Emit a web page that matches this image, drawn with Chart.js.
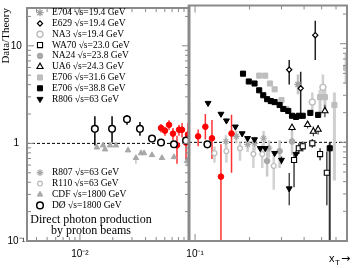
<!DOCTYPE html>
<html>
<head>
<meta charset="utf-8">
<script src="https://cdn.jsdelivr.net/npm/chart.js@4.4.1/dist/chart.umd.min.js"></script>
<style>
  html, body { margin: 0; padding: 0; background: #fff; }
  #wrap { position: relative; width: 354px; height: 268px; }
  #wrap canvas { position: absolute; left: 0; top: 0; }
</style>
</head>
<body>
<div id="wrap">
  <canvas id="low" width="354" height="268"></canvas>
  <canvas id="high" width="354" height="268"></canvas>
</div>
<script>
// axis ranges (log x in two panels, shared log y)
const yRange = [0.1, 24.4];
const lowXRange = [0.00327, 0.1];
const highXRange = [0.0926, 0.69];
const yTickVals = [0.1, 1, 10];
const yTickText = ['10\u207B\u00B9', '1', '10'];
const lowXTickVals = [0.01];
const lowXTickText = ['10\u207B\u00B2'];
const highXTickVals = [0.1];
const highXTickText = ['10\u207B\u00B9'];

// legend entries
const topExperiments = ['E704', 'E629', 'NA3', 'WA70', 'NA24', 'UA6', 'E706', 'E706', 'R806'];
const topEnergies = ['19.4', '19.4', '19.4', '23.0', '23.8', '24.3', '31.6', '38.8', '63'];
const topKeys = ['e704', 'e629', 'na3', 'wa70', 'na24', 'ua6', 'e706a', 'e706b', 'r806'];
const bottomExperiments = ['R807', 'R110', 'CDF', 'D\u00D8'];
const bottomEnergies = ['63', '63', '1800', '1800'];
const bottomKeys = ['r807', 'r110', 'cdf', 'dzero'];

// data (x_T, data/theory, error low, error high)
const e704X = [0.370];
const e704Y = [3.86];
const e704Lo = [3.07];
const e704Hi = [4.86];

const e629X = [0.331, 0.383, 0.461];
const e629Y = [5.45, 3.53, 12.2];
const e629Lo = [3.86, 1.90, 6.85];
const e629Hi = [6.85, 5.20, 17.1];

const na3X = [0.444, 0.508];
const na3Y = [2.56, 3.61];
const na3Lo = [2.0, 2.87];
const na3Hi = [3.2, 4.86];

const wa70X = [0.352, 0.374, 0.393, 0.444, 0.490, 0.534];
const wa70Y = [0.662, 0.871, 0.912, 0.977, 0.760, 0.492];
const wa70Lo = [0.35, 0.76, 0.81, 0.88, 0.66, 0.23];
const wa70Hi = [0.76, 0.98, 1.02, 1.08, 0.87, 0.81];

const na24X = [0.250, 0.293, 0.343];
const na24Y = [0.647, 0.814, 1.02];
const na24Lo = [0.45, 0.55, 0.75];
const na24Hi = [0.85, 1.05, 1.3];

const ua6X = [0.343, 0.418, 0.450, 0.478, 0.521];
const ua6Y = [1.41, 1.51, 1.29, 1.35, 2.08];
const ua6Lo = [1.30, 1.38, 1.15, 1.20, 1.80];
const ua6Hi = [1.52, 1.65, 1.45, 1.50, 2.40];

const e706aX = [0.226, 0.244, 0.259, 0.275, 0.300, 0.319, 0.490, 0.521, 0.588, 0.682];
const e706aY = [4.75, 4.75, 3.95, 3.45, 2.68, 2.18, 2.87, 2.87, 2.39, 5.70];
const e706aLo = [4.6, 4.6, 3.8, 3.3, 2.55, 2.05, 2.0, 2.0, 0.41, 3.9];
const e706aHi = [4.9, 4.9, 4.1, 3.6, 2.8, 2.3, 3.4, 3.4, 3.2, 8.0];

const e706bX = [0.184, 0.198, 0.213, 0.226, 0.238, 0.250, 0.262, 0.275, 0.293, 0.307,
                0.327, 0.343, 0.361, 0.374, 0.393, 0.433, 0.478, 0.554];
const e706bY = [4.97, 4.14, 3.95, 3.37, 3.00, 2.74, 2.62, 2.56, 2.39, 2.18,
                2.08, 1.86, 1.81, 1.86, 1.86, 1.99, 1.90, 0.871];
const e706bLo = [4.8, 4.0, 3.8, 3.25, 2.9, 2.65, 2.53, 2.47, 2.3, 2.1,
                 2.0, 1.78, 1.73, 1.77, 1.76, 1.88, 1.78, 0.05];
const e706bHi = [5.15, 4.3, 4.1, 3.5, 3.1, 2.83, 2.71, 2.65, 2.48, 2.26,
                 2.16, 1.94, 1.9, 1.95, 1.96, 2.1, 2.02, 0.99];

const r806X = [0.118, 0.139, 0.149, 0.167, 0.182, 0.195, 0.213, 0.229, 0.244, 0.275, 0.300, 0.331, 0.361];
const r806Y = [2.50, 1.94, 1.66, 1.44, 1.23, 1.10, 1.07, 0.871, 0.871, 0.777, 0.662, 0.340, 0.76];
const r806Lo = [2.42, 1.88, 1.61, 1.39, 1.19, 1.06, 1.03, 0.84, 0.84, 0.74, 0.60, 0.23, 0.70];
const r806Hi = [2.58, 2.0, 1.71, 1.49, 1.27, 1.14, 1.11, 0.90, 0.90, 0.81, 0.72, 0.49, 0.82];

const r807X = [0.148, 0.169, 0.195, 0.213, 0.239, 0.256];
const r807Y = [1.02, 1.15, 0.955, 0.977, 1.10, 0.871];
const r807Lo = [0.86, 0.98, 0.80, 0.82, 0.90, 0.70];
const r807Hi = [1.18, 1.32, 1.10, 1.14, 1.30, 1.05];

const r110X = [0.128, 0.149, 0.177, 0.210, 0.235, 0.272];
const r110Y = [0.777, 0.814, 0.871, 0.760, 0.760, 0.577];
const r110Lo = [0.62, 0.62, 0.65, 0.55, 0.55, 0.33];
const r110Hi = [0.91, 0.95, 1.0, 0.91, 0.95, 0.81];

const cdfX = [0.0143, 0.0163, 0.0170, 0.0189, 0.0214, 0.0276, 0.0326, 0.0363, 0.0387, 0.0458, 0.0565, 0.0728, 0.0959];
const cdfY = [0.91, 0.955, 0.87, 0.955, 0.955, 0.85, 0.71, 0.795, 0.795, 0.76, 0.71, 0.725, 0.66];
const cdfLo = [0.88, 0.93, 0.84, 0.93, 0.93, 0.82, 0.62, 0.77, 0.77, 0.73, 0.68, 0.69, 0.58];
const cdfHi = [0.94, 0.98, 0.90, 0.98, 0.98, 0.88, 0.76, 0.82, 0.82, 0.79, 0.74, 0.76, 0.74];

const dzeroX = [0.0137, 0.0197, 0.0270, 0.0355, 0.0458, 0.0554, 0.0728, 0.0939, 0.117];
const dzeroY = [1.41, 1.41, 1.77, 1.41, 1.12, 1.02, 0.98, 1.07, 0.955];
const dzeroLo = [0.95, 1.02, 1.55, 1.20, 1.07, 0.98, 0.94, 1.03, 0.92];
const dzeroHi = [1.90, 1.90, 1.95, 1.66, 1.17, 1.06, 1.02, 1.11, 0.99];

const redX = [0.0554, 0.0602, 0.0656, 0.0713, 0.0776, 0.0810, 0.0863, 0.0939, 0.0979,
              0.104, 0.114, 0.124, 0.139, 0.159];
const redY = [1.44, 1.35, 1.55, 1.26, 0.955, 1.38, 1.38, 1.02, 1.23,
              1.15, 1.44, 1.10, 0.449, 1.23];
const redLo = [1.29, 1.20, 1.38, 1.07, 0.618, 1.20, 1.15, 0.677, 1.02,
               0.912, 1.07, 0.677, 0.05, 0.492];
const redHi = [1.58, 1.48, 1.73, 1.44, 1.20, 1.55, 1.62, 1.29, 1.62,
               1.35, 1.94, 1.69, 0.955, 1.90];

const styles = {
  dzero: { pointStyle: 'circle', radius: 3.3, line: '#000', fill: '#fff', bw: 1.5, bar: '#000', barW: 1.5 },
  e629: { pointStyle: 'rectRot', radius: 2.6, line: '#000', fill: '#fff', bw: 1.2, bar: '#222', barW: 1.5 },
  wa70: { pointStyle: 'rect', radius: 3.6, line: '#000', fill: '#fff', bw: 1.1, bar: '#444', barW: 1.5 },
  ua6: { pointStyle: 'triangle', radius: 3.6, line: '#000', fill: '#fff', bw: 1.1, bar: '#444', barW: 1.2 },
  e706b: { pointStyle: 'rect', radius: 3.6, line: '#000', fill: '#000', bw: 1, bar: '#333', barW: 2 },
  r806: { pointStyle: 'triangle', rotation: 180, radius: 3.4, line: '#000', fill: '#000', bw: 1, bar: '#222', barW: 1.2 },
  red: { pointStyle: 'circle', radius: 2.8, line: '#f00', fill: '#f00', bw: 1, bar: '#f33', barW: 1.5 },
  e704: { pointStyle: 'star', radius: 3.6, line: '#a0a0a0', fill: '#a0a0a0', bw: 1.3, bar: '#c4c4c4', barW: 2.5 },
  na3: { pointStyle: 'circle', radius: 3, line: '#bdbdbd', fill: '#fff', bw: 1.4, bar: '#cfcfcf', barW: 2.5 },
  na24: { pointStyle: 'circle', radius: 2.8, line: '#a8a8a8', fill: '#a8a8a8', bw: 1, bar: '#cacaca', barW: 2.5 },
  e706a: { pointStyle: 'rect', radius: 3.6, line: '#bdbdbd', fill: '#bdbdbd', bw: 1, bar: '#cfcfcf', barW: 3 },
  r807: { pointStyle: 'star', radius: 3.4, line: '#a8a8a8', fill: '#a8a8a8', bw: 1.2, bar: '#d0d0d0', barW: 2.5 },
  r110: { pointStyle: 'circle', radius: 2.4, line: '#bbbbbb', fill: '#fff', bw: 1.2, bar: '#d2d2d2', barW: 2.5 },
  cdf: { pointStyle: 'triangle', radius: 3.2, line: '#a8a8a8', fill: '#a8a8a8', bw: 1, bar: '#c8c8c8', barW: 1.5 }
};

const series = [
  ['dzero', dzeroX, dzeroY, dzeroLo, dzeroHi],
  ['e629', e629X, e629Y, e629Lo, e629Hi],
  ['wa70', wa70X, wa70Y, wa70Lo, wa70Hi],
  ['ua6', ua6X, ua6Y, ua6Lo, ua6Hi],
  ['e706b', e706bX, e706bY, e706bLo, e706bHi],
  ['r806', r806X, r806Y, r806Lo, r806Hi],
  ['red', redX, redY, redLo, redHi],
  ['e704', e704X, e704Y, e704Lo, e704Hi],
  ['na3', na3X, na3Y, na3Lo, na3Hi],
  ['na24', na24X, na24Y, na24Lo, na24Hi],
  ['e706a', e706aX, e706aY, e706aLo, e706aHi],
  ['r807', r807X, r807Y, r807Lo, r807Hi],
  ['r110', r110X, r110Y, r110Lo, r110Hi],
  ['cdf', cdfX, cdfY, cdfLo, cdfHi]
];

const frameColor = '#8a8a8a';

function buildDatasets(keep) {
  return series.map(([key, xs, ys, lo, hi]) => {
    const s = styles[key];
    const data = [];
    xs.forEach((x, i) => {
      if (keep(x)) data.push({ x: x, y: ys[i], lo: lo[i], hi: hi[i] });
    });
    return {
      label: key,
      data: data,
      pointStyle: s.pointStyle,
      rotation: s.rotation || 0,
      pointRadius: s.radius,
      borderColor: s.line,
      backgroundColor: s.fill,
      borderWidth: s.bw,
      barColor: s.bar,
      barWidth: s.barW
    };
  });
}

function pickLabel(v, vals, texts) {
  for (let i = 0; i < vals.length; i++) {
    if (Math.abs(v - vals[i]) / vals[i] < 1e-3) return texts[i];
  }
  return '';
}

function logMarks(lo, hi) {
  const out = [];
  for (let e = Math.floor(Math.log10(lo)); e <= Math.ceil(Math.log10(hi)); e++) {
    for (let m = 1; m <= 9; m++) {
      const v = m * Math.pow(10, e);
      if (v >= lo * 0.999 && v <= hi * 1.001) out.push({ v: v, major: m === 1 });
    }
  }
  return out;
}

const errorBars = {
  id: 'errorBars',
  beforeDatasetsDraw(chart) {
    const { ctx, chartArea: a, scales: { y } } = chart;
    ctx.save();
    ctx.beginPath();
    ctx.rect(a.left, a.top, a.right - a.left, a.bottom - a.top);
    ctx.clip();
    // unity reference line
    const py = y.getPixelForValue(1);
    ctx.setLineDash([3, 2]);
    ctx.strokeStyle = '#000';
    ctx.lineWidth = 1;
    ctx.beginPath();
    ctx.moveTo(a.left, py);
    ctx.lineTo(a.right, py);
    ctx.stroke();
    ctx.setLineDash([]);
    // light bars first so dark ones sit on top
    for (let i = chart.data.datasets.length - 1; i >= 0; i--) {
      const ds = chart.data.datasets[i];
      const meta = chart.getDatasetMeta(i);
      ctx.strokeStyle = ds.barColor;
      ctx.lineWidth = ds.barWidth;
      meta.data.forEach((pt, j) => {
        const d = ds.data[j];
        ctx.beginPath();
        ctx.moveTo(pt.x, y.getPixelForValue(d.lo));
        ctx.lineTo(pt.x, y.getPixelForValue(d.hi));
        ctx.stroke();
      });
    }
    ctx.restore();
  }
};

const frame = {
  id: 'frame',
  afterDatasetsDraw(chart, args, opts) {
    const { ctx, chartArea: a, scales: { x, y } } = chart;
    ctx.save();
    ctx.strokeStyle = frameColor;
    ctx.lineWidth = 1;
    logMarks(x.min, x.max).forEach(t => {
      const px = x.getPixelForValue(t.v);
      const len = t.major ? 7 : 4;
      ctx.beginPath();
      ctx.moveTo(px, a.bottom);
      ctx.lineTo(px, a.bottom - len);
      ctx.moveTo(px, a.top);
      ctx.lineTo(px, a.top + len);
      ctx.stroke();
    });
    logMarks(y.min, y.max).forEach(t => {
      const py = y.getPixelForValue(t.v);
      const len = t.major ? 7 : 4;
      ctx.beginPath();
      if (opts.leftTicks) {
        ctx.moveTo(a.left, py);
        ctx.lineTo(a.left + len, py);
      }
      ctx.moveTo(a.right, py);
      ctx.lineTo(a.right - len, py);
      ctx.stroke();
    });
    ctx.lineWidth = 2;
    ctx.strokeRect(a.left, a.top, a.right - a.left, a.bottom - a.top);
    if (opts.separator) {
      ctx.lineWidth = opts.separator;
      ctx.beginPath();
      ctx.moveTo(a.left, a.top);
      ctx.lineTo(a.left, a.bottom);
      ctx.stroke();
    }
    ctx.restore();
  }
};

function drawMarker(ctx, key, x, y) {
  const s = styles[key];
  ctx.save();
  ctx.fillStyle = s.fill;
  ctx.strokeStyle = s.line;
  ctx.lineWidth = s.bw;
  Chart.helpers.drawPoint(ctx, {
    pointStyle: s.pointStyle,
    rotation: s.rotation || 0,
    radius: s.radius,
    borderWidth: s.bw
  }, x, y);
  ctx.restore();
}

const legendBox = {
  id: 'legendBox',
  afterDraw(chart) {
    const ctx = chart.ctx;
    ctx.save();
    ctx.font = '9.5px "Liberation Serif"';
    ctx.textBaseline = 'middle';
    topKeys.forEach((k, i) => {
      const y = 12.7 + i * 10.8;
      drawMarker(ctx, k, 40, y);
      ctx.fillStyle = '#000';
      ctx.fillText(topExperiments[i] + ' \u221As=' + topEnergies[i] + ' GeV', 52, y);
    });
    bottomKeys.forEach((k, i) => {
      const y = 172.7 + i * 10.9;
      drawMarker(ctx, k, 40, y);
      ctx.fillStyle = '#000';
      ctx.fillText(bottomExperiments[i] + ' \u221As=' + bottomEnergies[i] + ' GeV', 52, y);
    });
    ctx.font = '12px "Liberation Serif"';
    ctx.textAlign = 'center';
    ctx.fillStyle = '#000';
    ctx.fillText('Direct photon production', 91, 219.5);
    ctx.fillText('by proton beams', 91, 231);
    ctx.restore();
  }
};

const xTitle = {
  id: 'xTitle',
  afterDraw(chart) {
    const ctx = chart.ctx;
    ctx.save();
    ctx.fillStyle = '#000';
    ctx.textBaseline = 'alphabetic';
    ctx.font = '11px "Liberation Sans"';
    ctx.fillText('x', 329, 262);
    ctx.font = '8px "Liberation Sans"';
    ctx.fillText('T', 335, 265);
    ctx.font = '11px "DejaVu Sans"';
    ctx.fillText('\u2192', 341, 262);
    ctx.restore();
  }
};

const tickFont = { family: 'Liberation Sans', size: 10 };

function makeChart(id, xRange, keep, xVals, xText, withY, pad, extra, frameOpts) {
  return new Chart(document.getElementById(id), {
    type: 'scatter',
    data: { datasets: buildDatasets(keep) },
    options: {
      responsive: false,
      animation: false,
      layout: { padding: pad },
      plugins: { legend: { display: false }, tooltip: { enabled: false }, frame: frameOpts },
      scales: {
        x: {
          type: 'logarithmic',
          min: xRange[0],
          max: xRange[1],
          grid: { display: false, drawTicks: false },
          border: { display: false },
          ticks: {
            autoSkip: false, maxRotation: 0, padding: 7, color: '#000', font: tickFont,
            callback: v => pickLabel(v, xVals, xText)
          },
          afterFit: s => { s.height = 27; }
        },
        y: {
          type: 'logarithmic',
          display: withY,
          min: yRange[0],
          max: yRange[1],
          grid: { display: false, drawTicks: false },
          border: { display: false },
          ticks: {
            autoSkip: false, padding: 2, crossAlign: 'center', color: '#000', font: tickFont,
            callback: v => pickLabel(v, yTickVals, yTickText)
          },
          title: {
            display: true, text: 'Data/Theory', align: 'end', color: '#000', padding: 0,
            font: { family: 'Liberation Serif', size: 11 }
          },
          afterFit: s => { s.width = withY ? 27 : 0; }
        }
      }
    },
    plugins: [errorBars, frame].concat(extra)
  });
}

makeChart('low', lowXRange, x => x < 0.1, lowXTickVals, lowXTickText, true,
  { left: 0, right: 165, top: 1, bottom: 0 }, [legendBox], { leftTicks: true });
makeChart('high', highXRange, x => x >= 0.1, highXTickVals, highXTickText, false,
  { left: 189, right: 1, top: 1, bottom: 0 }, [xTitle], { leftTicks: false, separator: 3 });
</script>
</body>
</html>
